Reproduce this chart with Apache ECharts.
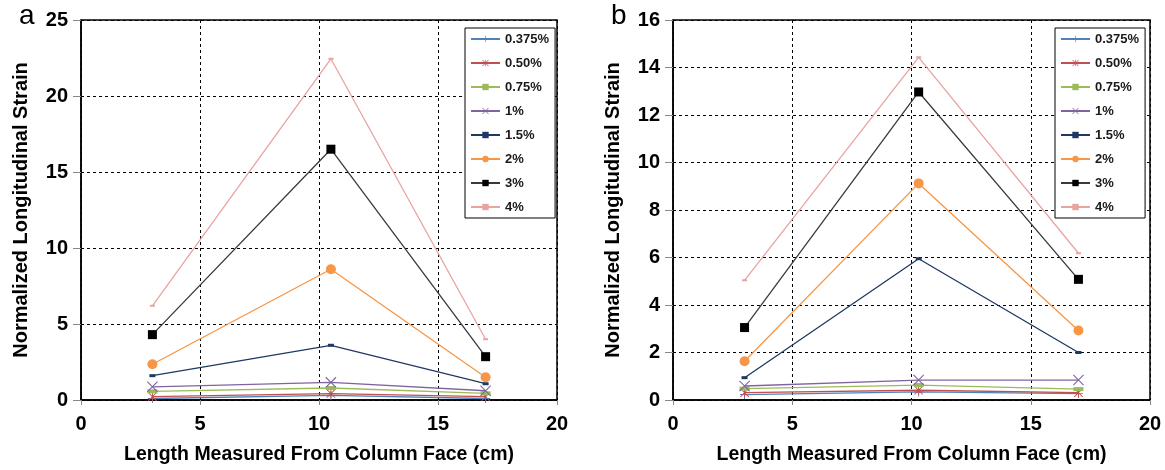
<!DOCTYPE html>
<html>
<head>
<meta charset="utf-8">
<script src="https://cdn.jsdelivr.net/npm/echarts@6/dist/echarts.min.js"></script>
<style>
  html, body { margin: 0; padding: 0; background: #fff; }
  #chart { width: 1165px; height: 470px; }
</style>
</head>
<body>
<div id="chart"></div>
<script>
  // 图 a 与 图 b 的数据
  var seriesNames = ['0.375%', '0.50%', '0.75%', '1%', '1.5%', '2%', '3%', '4%'];
  var xA = [3, 10.5, 17];
  var xB = [3, 10.3, 17];

  var a0375 = [0.1, 0.3, 0.1];
  var a050 = [0.22, 0.42, 0.22];
  var a075 = [0.57, 0.79, 0.44];
  var a1 = [0.87, 1.16, 0.61];
  var a15 = [1.6, 3.6, 1.07];
  var a2 = [2.35, 8.6, 1.5];
  var a3 = [4.3, 16.5, 2.85];
  var a4 = [6.2, 22.45, 4.0];

  var b0375 = [0.23, 0.34, 0.27];
  var b050 = [0.31, 0.41, 0.31];
  var b075 = [0.48, 0.63, 0.46];
  var b1 = [0.59, 0.84, 0.84];
  var b15 = [0.94, 5.95, 2.0];
  var b2 = [1.63, 9.12, 2.93];
  var b3 = [3.05, 12.97, 5.08];
  var b4 = [5.04, 14.43, 6.18];

  var yTicksA = {min: 0, max: 25, interval: 5};
  var yTicksB = {min: 0, max: 16, interval: 2};

  var colors = ['#4F81BD', '#C0504D', '#9BBB59', '#8064A2', '#1F3864', '#F79646', '#3a3a3a', '#E8A3A3'];
  var symbolColors = ['#4F81BD', '#C0504D', '#9BBB59', '#8064A2', '#1F3864', '#F79646', '#000000', '#E8A3A3'];
  var symbols = [
    'path://M4.5,0H5.5V4.5H10V5.5H5.5V10H4.5V5.5H0V4.5H4.5Z',
    'path://M0,0.7L0.7,0L10,9.3L9.3,10Z M9.3,0L10,0.7L0.7,10L0,9.3Z M4.5,0H5.5V10H4.5Z',
    'rect',
    'path://M0,0.7L0.7,0L10,9.3L9.3,10Z M9.3,0L10,0.7L0.7,10L0,9.3Z',
    'rect',
    'circle',
    'rect',
    'rect'
  ];
  var symbolSizes = [9, 9, [10, 4], 11, [6, 3], 10, 9, [5, 2]];

  var dataA = [a0375, a050, a075, a1, a15, a2, a3, a4];
  var dataB = [b0375, b050, b075, b1, b15, b2, b3, b4];

  function pairs(xs, ys) {
    return ys.map(function (v, i) { return [xs[i], v]; });
  }

  function makeSeries(data, xs, idx) {
    return data.map(function (ys, i) {
      return {
        name: seriesNames[i],
        type: 'line',
        xAxisIndex: idx,
        yAxisIndex: idx,
        data: pairs(xs, ys),
        symbol: symbols[i],
        symbolSize: symbolSizes[i],
        showAllSymbol: true,
        lineStyle: {color: colors[i], width: 1.3},
        itemStyle: {color: symbolColors[i]},
        z: 3 + i,
        animation: false
      };
    });
  }

  var fam = 'Liberation Sans, Arial';
  var labelFont = {fontFamily: fam, fontWeight: 'bold', fontSize: 20, color: '#000'};

  function xAxis(idx) {
    return {
      type: 'value', gridIndex: idx, min: 0, max: 20, interval: 5,
      name: 'Length Measured From Column Face (cm)', nameLocation: 'middle', nameGap: 45,
      nameTextStyle: {fontFamily: fam, fontWeight: 'bold', fontSize: 19.5, color: '#000'},
      axisLine: {lineStyle: {color: '#000', width: 1.5}},
      axisTick: {show: true, inside: false, length: 5, lineStyle: {color: '#888'}},
      axisLabel: Object.assign({margin: 14}, labelFont),
      splitLine: {show: true, lineStyle: {color: '#000', type: [3, 3], width: 1}}
    };
  }

  function yAxis(idx, t) {
    return {
      type: 'value', gridIndex: idx, min: t.min, max: t.max, interval: t.interval,
      name: 'Normalized Longitudinal Strain', nameLocation: 'middle', nameGap: 50,
      nameTextStyle: {fontFamily: fam, fontWeight: 'bold', fontSize: 20, color: '#000'},
      axisLine: {lineStyle: {color: '#000', width: 1.5}},
      axisTick: {show: true, inside: false, length: 8, lineStyle: {color: '#888'}},
      axisLabel: Object.assign({margin: 13}, labelFont),
      splitLine: {show: true, lineStyle: {color: '#000', type: [3, 3], width: 1}}
    };
  }

  function legend(idx, left) {
    return {
      data: seriesNames,
      orient: 'vertical',
      left: left, top: 28,
      padding: [4, 6, 4, 5],
      itemGap: 10,
      itemWidth: 29,
      itemHeight: 8,
      borderColor: '#000',
      borderWidth: 1,
      backgroundColor: '#fff',
      textStyle: {fontFamily: fam, fontWeight: 'bold', fontSize: 13, lineHeight: 14, color: '#1a1a1a'},
      z: 10
    };
  }

  var chart = echarts.init(document.getElementById('chart'), null, {renderer: 'canvas'});
  var option = {
    backgroundColor: '#fff',
    animation: false,
    title: [
      {text: 'a', left: 14, top: -3, textStyle: {fontFamily: fam, fontWeight: 'normal', fontSize: 28, color: '#000'}},
      {text: 'b', left: 606, top: -3, textStyle: {fontFamily: fam, fontWeight: 'normal', fontSize: 28, color: '#000'}}
    ],
    grid: [
      {left: 81, top: 20, width: 476, height: 381, show: true, borderColor: '#000', borderWidth: 1.5, backgroundColor: 'transparent'},
      {left: 673, top: 20, width: 477, height: 381, show: true, borderColor: '#000', borderWidth: 1.5, backgroundColor: 'transparent'}
    ],
    xAxis: [xAxis(0), xAxis(1)],
    yAxis: [yAxis(0, yTicksA), yAxis(1, yTicksB)],
    legend: [legend(0, 465), legend(1, 1055)],
    series: makeSeries(dataA, xA, 0).concat(makeSeries(dataB, xB, 1))
  };
  chart.setOption(option);
</script>
</body>
</html>
